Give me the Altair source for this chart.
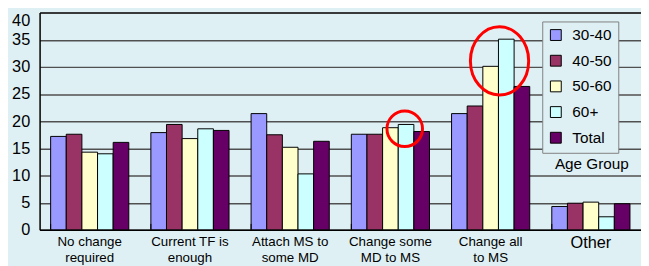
import altair as alt
import pandas as pd

categories = ["No change\nrequired", "Current TF is\nenough", "Attach MS to\nsome MD",
              "Change some\nMD to MS", "Change all\nto MS", "Other"]
groups = ["30-40", "40-50", "50-60", "60+", "Total"]
v_30_40 = [17.2, 17.9, 21.4, 17.6, 21.4, 4.3]
v_40_50 = [17.6, 19.4, 17.5, 17.6, 22.8, 4.9]
v_50_60 = [14.3, 16.8, 15.2, 18.8, 30.1, 5.1]
v_60p = [14.0, 18.6, 10.3, 19.4, 35.1, 2.4]
v_total = [16.1, 18.3, 16.3, 18.1, 26.4, 4.8]
colors = ["#9999FF", "#993366", "#FFFFCC", "#CCFFFF", "#660066"]
y_ticks = [0, 5, 10, 15, 20, 25, 30, 35, 40]

# annotations (category, value)
ellipse_big = ("Change all\nto MS", 31.1)
ellipse_small = ("Change some\nMD to MS", 18.6)
legend_title = ("Other", 12.1, "Age Group")

series = [v_30_40, v_40_50, v_50_60, v_60p, v_total]
rows = []
for g, vals in zip(groups, series):
    for c, v in zip(categories, vals):
        rows.append({"category": c, "group": g, "value": v})
df = pd.DataFrame(rows)

BG = "#DFF0F4"
FONT = "Liberation Sans"

xscale = alt.Scale(paddingInner=0.22, paddingOuter=0.11)
yscale = alt.Scale(domain=[0, 40], nice=False)

x_axis = alt.Axis(
    title=None, labelAngle=0, ticks=False, domainColor="black", domainWidth=1.5,
    labelExpr="split(datum.label, '\\n')", labelLineHeight=16, labelPadding=5,
    labelFontSize={"condition": {"test": "datum.value == 'Other'", "value": 16.5}, "value": 13.5},
    labelColor="black", labelFont=FONT,
)
y_axis = alt.Axis(
    title=None, values=y_ticks, ticks=False, domainColor="black", domainWidth=1.5,
    grid=True, gridWidth=1.5, labelOverlap=False,
    gridColor={"condition": {"test": "datum.value == 40", "value": "black"}, "value": "#505050"},
    labelBaseline={"condition": {"test": "datum.value == 40", "value": "top"}, "value": "middle"},
    labelFontSize=16.5, labelPadding=10, labelColor="black", labelFont=FONT,
)

X = lambda **kw: alt.X("category:N", sort=categories, scale=xscale, axis=x_axis, **kw)
Y = lambda: alt.Y("value:Q", scale=yscale, axis=y_axis)

bars = alt.Chart(df).mark_bar(stroke="black", strokeWidth=1).encode(
    x=X(),
    xOffset=alt.XOffset("group:N", sort=groups, scale=alt.Scale(paddingInner=0, paddingOuter=0)),
    y=Y(),
    color=alt.Color("group:N", sort=groups, scale=alt.Scale(domain=groups, range=colors),
                    legend=alt.Legend(
                        orient="none", legendX=509, legendY=9, title=None,
                        fillColor=BG, strokeColor="#808080", padding=6,
                        symbolType="square", symbolSize=121, symbolStrokeColor="black",
                        symbolStrokeWidth=1, symbolOpacity=1,
                        labelFontSize=15.5, labelFont=FONT, labelColor="black",
                        rowPadding=9, labelOffset=9)),
)

tick_df = pd.DataFrame({"category": categories})
ticks = alt.Chart(tick_df).mark_rule(color="black", strokeWidth=1, y2Offset=-6).encode(
    x=X(bandPosition=0),
    y=alt.Y(datum=0, scale=yscale, axis=y_axis),
    y2=alt.datum(0),
)

def ellipse(ann, ratio, height, dx):
    d = pd.DataFrame({"category": [ann[0]], "value": [ann[1]]})
    rx = ratio
    path = f"M {-rx} 0 A {rx} 1 0 1 0 {rx} 0 A {rx} 1 0 1 0 {-rx} 0 Z"
    return alt.Chart(d).mark_point(
        shape=path, size=height * height, filled=False, stroke="#FF0000",
        strokeWidth=3, opacity=1, xOffset=dx,
    ).encode(x=X(), y=Y())

e1 = ellipse(ellipse_big, 0.855, 69, 9)
e2 = ellipse(ellipse_small, 1.0, 36, 14.5)

lt_df = pd.DataFrame({"category": [legend_title[0]], "value": [legend_title[1]], "text": [legend_title[2]]})
lt = alt.Chart(lt_df).mark_text(fontSize=15.5, font=FONT, color="black", dx=1).encode(
    x=X(), y=Y(), text="text:N",
)

chart = alt.layer(bars, ticks, e1, e2, lt).properties(
    width=641, height=258, background=BG,
    autosize=alt.AutoSizeParams(type="fit", contains="padding"),
    padding={"left": 3, "top": 3, "right": 0, "bottom": 0},
).configure_view(stroke=None, fill=BG).configure(font=FONT)

chart.save("out.html", embed_options={"renderer": "svg", "actions": False})
